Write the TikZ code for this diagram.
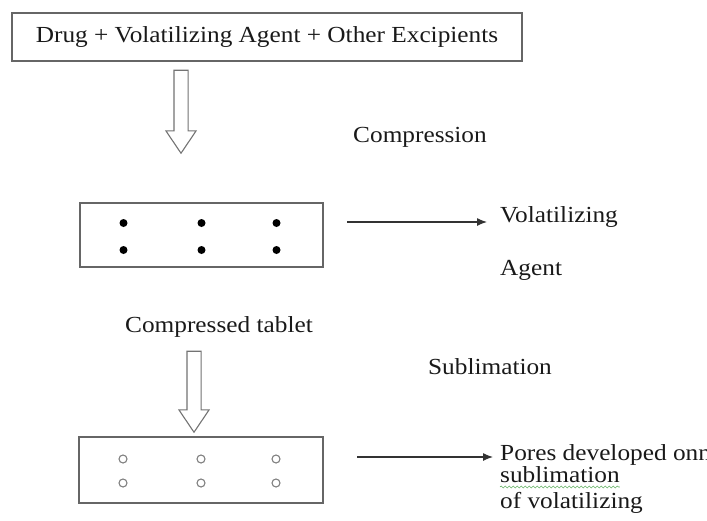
\documentclass[tikz,border=0pt]{standalone}
\usepackage{fontspec}
\setmainfont{Liberation Serif}[FakeStretch=1.1]
\usepackage{xcolor}
\usepackage{tikz}
\usetikzlibrary{shapes.arrows,arrows.meta,positioning,calc,decorations.pathmorphing}

\begin{document}
\begin{tikzpicture}[x=1pt, y=-1pt,
  box/.style={rectangle, draw=black!60, line width=1.3pt, inner sep=0pt},
  lbl/.style={font=\fontsize{23}{23}\selectfont, text=black!90, inner sep=0pt},
  hollow/.style={single arrow, draw=black!55, line width=1.1pt, fill=white,
    inner xsep=0pt, inner ysep=6.5pt, single arrow head extend=8pt,
    single arrow tip angle=68, rotate=-90},
  flow/.style={-{Latex[length=10pt, width=8pt]}, draw=black!80, line width=1.2pt},
  agent/.style={circle, fill=black, inner sep=0pt, minimum size=8pt},
  pore/.style={circle, draw=black!50, line width=1.1pt, inner sep=0pt, minimum size=8pt}
]
\path[use as bounding box, clip] (0,0) rectangle (707,520);

% Mixture
\node[box, minimum width=510pt, minimum height=48pt, lbl] (mix) at (267,37)
  {Drug + Volatilizing Agent + Other Excipients};

% Compression step
\node[hollow, minimum height=83pt] (arrA) at (181,106.5) {};
\node[lbl] (comp) at (420,137) {Compression};

% Compressed tablet with agent
\node[box, minimum width=243pt, minimum height=64pt] (tab) at (201.5,235) {};
\foreach \dx in {-78,0,75}{
  \node[agent] at ($(tab.center)+(\dx,-12)$) {};
  \node[agent] at ($(tab.center)+(\dx,15)$) {};
}
\coordinate (c1) at (347,222);
\node[lbl, anchor=west] (vol) at (500,217) {Volatilizing};
\node[lbl, anchor=west] (agt) at (500,270) {Agent};
\draw[flow, shorten >=13pt] (c1) -- (c1 -| vol.west);

\node[lbl] (ctab) at (219,327) {Compressed tablet};

% Sublimation step
\node[hollow, minimum height=81pt] (arrB) at (194,386.5) {};
\node[lbl] (subl) at (490,367) {Sublimation};

% Porous tablet
\node[box, minimum width=244pt, minimum height=66pt] (por) at (201,470) {};
\foreach \dx in {-78,0,75}{
  \node[pore] at ($(por.center)+(\dx,-11)$) {};
  \node[pore] at ($(por.center)+(\dx,13)$) {};
}
\coordinate (c2) at (357,457);
\node[lbl, anchor=base west] (pr1) at (500,460) {Pores developed onn};
\node[lbl, anchor=base west] (pr2) at (500,482) {sublimation};
\node[lbl, anchor=base west] (pr3) at (500,508) {of volatilizing};
\draw[flow, shorten >=7pt] (c2) -- (c2 -| pr1.west);
\draw[green!50!black!60, line width=0.6pt,
  decorate, decoration={snake, amplitude=1pt, segment length=4pt}]
  ([yshift=-5pt]pr2.base west) -- ([yshift=-5pt]pr2.base east);

\end{tikzpicture}
\end{document}
